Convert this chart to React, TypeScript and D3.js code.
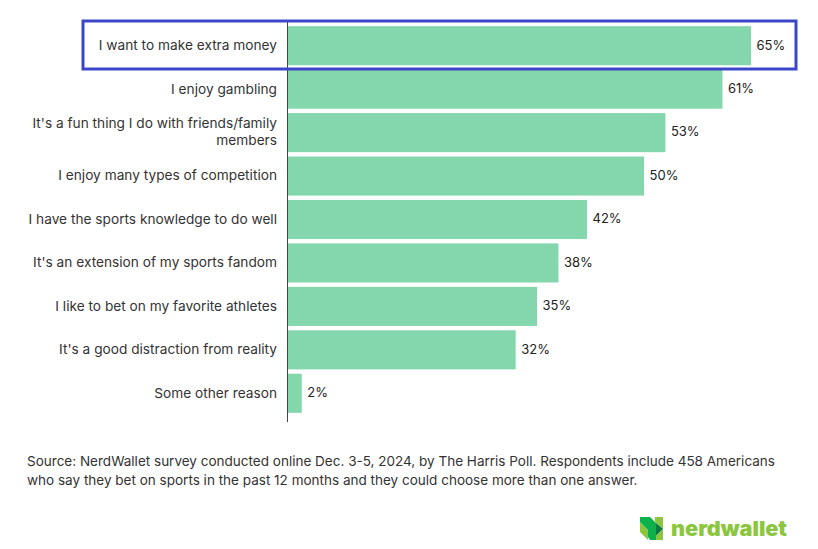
import React from 'react';
import * as d3 from 'd3';

const reasons = [
  ['I want to make extra money'],
  ['I enjoy gambling'],
  ["It's a fun thing I do with friends/family", 'members'],
  ['I enjoy many types of competition'],
  ['I have the sports knowledge to do well'],
  ["It's an extension of my sports fandom"],
  ['I like to bet on my favorite athletes'],
  ["It's a good distraction from reality"],
  ['Some other reason'],
];
const shares = [65, 61, 53, 50, 42, 38, 35, 32, 2];
const sourceLines = [
  'Source: NerdWallet survey conducted online Dec. 3-5, 2024, by The Harris Poll. Respondents include 458 Americans',
  'who say they bet on sports in the past 12 months and they could choose more than one answer.',
];

const W = 818, H = 549;
const FONT = 'Inter, sans-serif';

const App = () => {
  const x = d3.scaleLinear().domain([0, 65]).range([287.5, 751]);
  const y = d3.scaleBand<number>().domain(d3.range(shares.length)).range([24, 415]).paddingInner(0.1).paddingOuter(0.05);

  return (
    <svg width={W} height={H} viewBox={`0 0 ${W} ${H}`} style={{ position: 'absolute', left: 0, top: 0, background: '#fff' }} fontFamily={FONT}>
      {shares.map((d, i) => (
        <g key={i}>
          <rect x={x(0)} y={y(i)} width={x(d) - x(0)} height={y.bandwidth()} fill="#84d7ac" />
          <text x={x(d) + 5.5} y={y(i)! + y.bandwidth() / 2 - 0.3} dy="0.32em" fontSize={13} fill="#222">{d}%</text>
          {reasons[i].map((line, j) => (
            <text key={j} x={277} y={y(i)! + y.bandwidth() / 2 + (j - (reasons[i].length - 1) / 2) * 17} dy="0.32em" textAnchor="end" fontSize={13.7} fill="#333">{line}</text>
          ))}
        </g>
      ))}
      <line x1={x(0)} x2={x(0)} y1={21} y2={422} stroke="#444" strokeWidth={1} />
      <rect x={83} y={21} width={713} height={48} fill="none" stroke="#3c46c8" strokeWidth={3} />
      {sourceLines.map((line, i) => (
        <text key={i} x={27} y={466 + i * 19} fontSize={13.52} fill="#333">{line}</text>
      ))}
      {/* logo */}
      <g>
        <polygon points="640,522 648,530 648,540 640,532" fill="#8cc63f" />
        <polygon points="640,517 650,517 656,523 656,540 650,540 648,537 648,530 640,522" fill="#0db14b" />
        <polygon points="655,517 663,517 663,529 656,523 655,522" fill="#8cc63f" />
        <polygon points="656,523 663,529 656,536" fill="#0a7a3e" />
        <polygon points="656,536 663,529 663,540 656,540" fill="#8cc63f" />
      </g>
      <text x={671} y={536} fontWeight={900} fontSize={20.5} fill="#8cc63f" textLength={116} lengthAdjust="spacingAndGlyphs">nerdwallet</text>
    </svg>
  );
};

export default App;
